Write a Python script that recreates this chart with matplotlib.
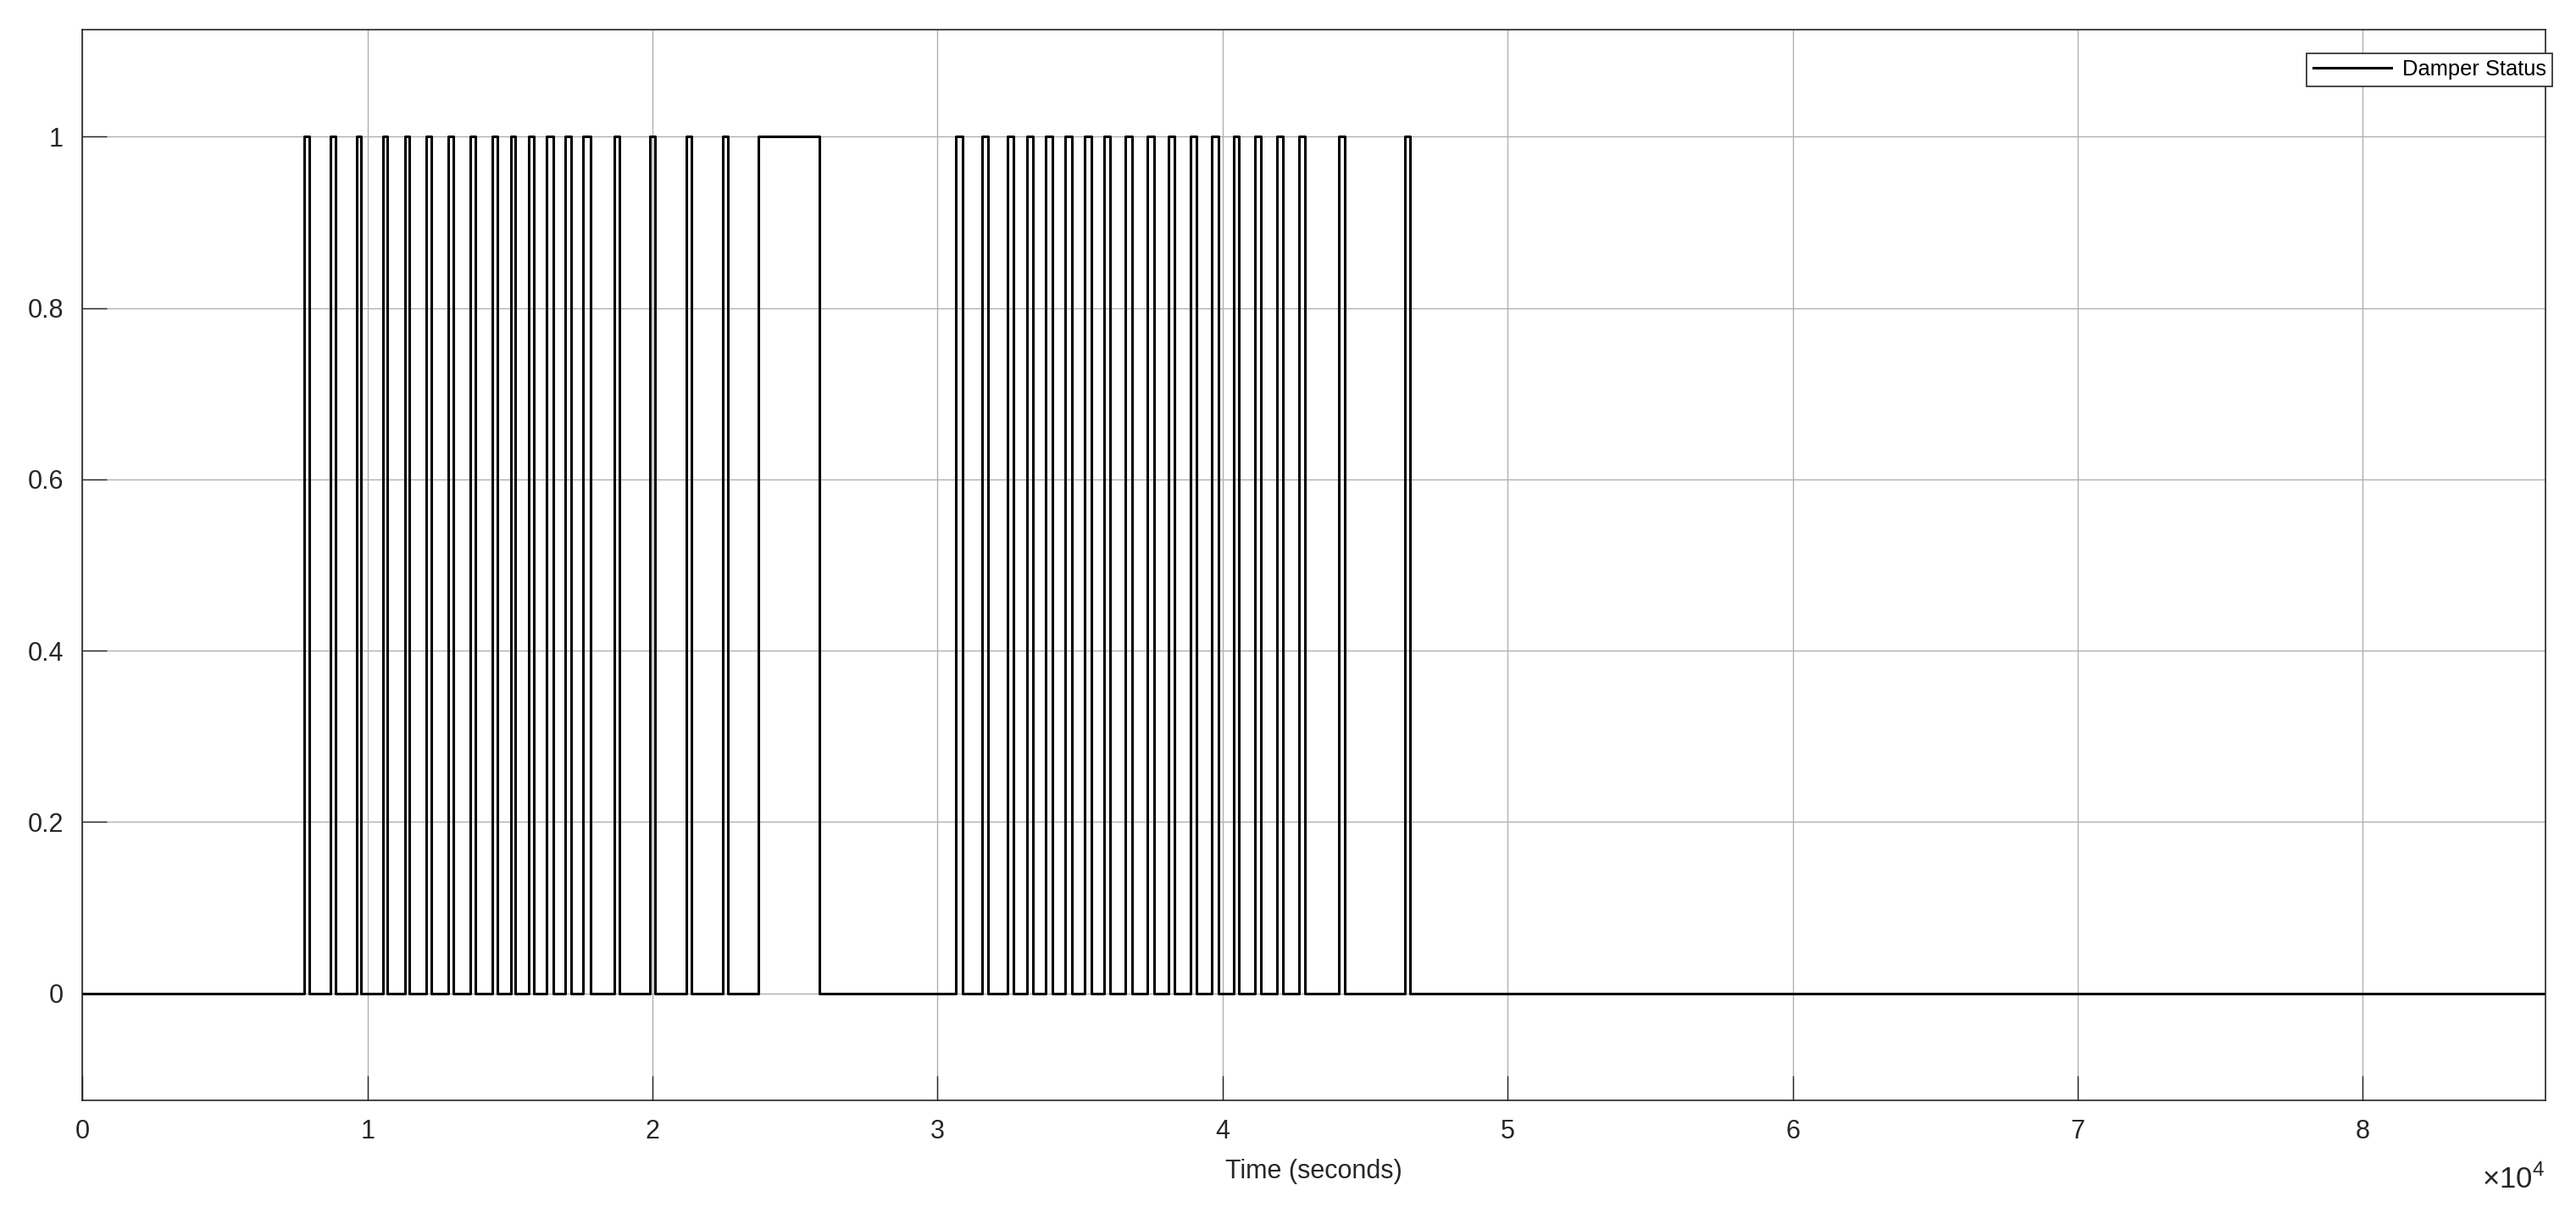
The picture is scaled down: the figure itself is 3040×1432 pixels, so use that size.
import numpy as np
import matplotlib
matplotlib.use("Agg")
import matplotlib.pyplot as plt
from matplotlib.ticker import FuncFormatter

plt.rcParams['font.family'] = ['Liberation Sans', 'DejaVu Sans']
plt.rcParams['mathtext.fontset'] = 'custom'
plt.rcParams['mathtext.rm'] = 'Liberation Sans'

# damper on / off switching times (seconds)
on_times = [7782, 8704, 9626, 10547, 11320, 12064, 12837, 13610, 14383, 15037,
            15662, 16286, 16941, 17565, 18664, 19913, 21192, 22470, 23726,
            30647, 31568, 32460, 33144, 33798, 34482, 35166, 35850, 36593,
            37373, 38117, 38890, 39633, 40407, 41150, 41923, 42696, 44094, 46413]
off_times = [7960, 8882, 9774, 10696, 11469, 12243, 13016, 13789, 14562, 15186,
             15840, 16524, 17149, 17833, 18843, 20091, 21370, 22649, 25860,
             30885, 31777, 32668, 33352, 34036, 34720, 35404, 36058, 36831,
             37611, 38325, 39098, 39871, 40585, 41359, 42132, 42904, 44302, 46592]
t_end = 86400

x_ticks = [0, 10000, 20000, 30000, 40000, 50000, 60000, 70000, 80000]
y_ticks = [0, 0.2, 0.4, 0.6, 0.8, 1]

edges = [0]
states = [0]
for a, b in zip(on_times, off_times):
    edges += [a, b]
    states += [1, 0]
edges.append(t_end)
states.append(0)

axcol = '#262626'
fig = plt.figure(figsize=(15.2, 7.16), dpi=200)
ax = fig.add_axes([0.032, 0.0929, 0.956, 0.8827])
ax.step(edges, states, where='post', color='black', lw=1.1, label='Damper Status')

ax.set_xlim(0, t_end)
ax.set_ylim(-0.125, 1.125)
ax.set_xticks(x_ticks)
ax.set_yticks(y_ticks)
ax.set_yticklabels(['0', '0.2', '0.4', '0.6', '0.8', '1'])
ax.xaxis.set_major_formatter(FuncFormatter(lambda v, p: '%g' % (v / 1e4)))
ax.text(1.0, -0.074, r'$\times10^{4}$', transform=ax.transAxes, ha='right',
        va='center', fontsize=12.5, color=axcol)

ax.grid(True, color='#b0b0b0', lw=0.5)
ax.set_axisbelow(True)
ax.tick_params(direction='in', length=10.4, width=0.5, colors=axcol,
               labelsize=11, top=False, right=False, pad=8)
for s in ax.spines.values():
    s.set_color(axcol)
    s.set_linewidth(0.6)

ax.set_xlabel('Time (seconds)', fontsize=11, color=axcol, labelpad=6)

leg = ax.legend(loc='upper right', bbox_to_anchor=(1.003, 0.978), borderaxespad=0,
                fontsize=9.2, fancybox=False, framealpha=1, edgecolor=axcol,
                handlelength=3.6, borderpad=0.3, handletextpad=0.5)
leg.get_frame().set_linewidth(0.6)

fig.savefig('out.png', dpi=200)
